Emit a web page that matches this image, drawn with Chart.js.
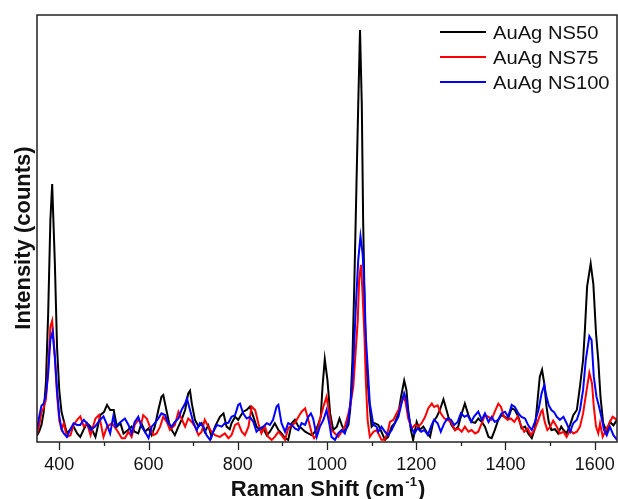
<!DOCTYPE html>
<html>
<head>
<meta charset="utf-8">
<script src="https://cdn.jsdelivr.net/npm/chart.js@4.4.0/dist/chart.umd.min.js"></script>
<style>
  body { margin: 0; background: #fff; }
  #wrap { width: 618px; height: 499px; }
</style>
</head>
<body>
<div id="wrap"><canvas id="myChart" width="618" height="499"></canvas></div>
<script>
// Raman spectra (shift in cm-1, intensity in arbitrary 0-100 units)
const labels = ["AuAg NS50", "AuAg NS75", "AuAg NS100"];
const colors = ["#000000", "#ff0000", "#0000ff"];
const xTicks = [400, 600, 800, 1000, 1200, 1400, 1600];

const ns50Shift = [350,355,360,365,370,375,380,384,390,395,400,405,410,417,425,432,440,447,455,462,470,481,492,500,507,514,522,529,537,544,554,562,569,577,584,592,600,607,614,622,629,633,640,646,652,659,667,674,682,689,693,697,704,712,719,726,734,741,749,760,768,775,782,786,794,801,812,820,827,835,842,850,857,865,872,883,891,898,906,913,921,928,936,943,951,958,966,973,980,986,990,995,1001,1007,1014,1022,1028,1033,1040,1048,1052,1057,1061,1066,1070,1074,1078,1081,1085,1089,1095,1100,1107,1115,1122,1130,1137,1145,1152,1160,1166,1173,1178,1182,1188,1193,1201,1208,1216,1223,1231,1238,1246,1253,1261,1266,1272,1279,1287,1294,1302,1309,1317,1324,1332,1339,1347,1354,1362,1369,1376,1384,1391,1399,1406,1414,1421,1429,1436,1444,1451,1459,1466,1472,1477,1482,1487,1492,1497,1503,1511,1518,1525,1530,1537,1545,1552,1560,1567,1574,1578,1583,1591,1597,1603,1608,1613,1619,1627,1634,1642,1650];
const ns50 = [1.5,2.5,4,7,14,30,52,60.4,42,22,12,7,5,2,3,3.6,2,1.2,3,4.4,3.6,1.2,6.3,7,8.7,7.5,7.5,3.6,4.4,2,2.8,3.6,2.4,2,4.4,2.4,3.2,1.6,3.6,7.5,10.6,11,7.5,4.5,2.8,1.6,3.6,5.2,7.5,11.4,12,9,5.2,3.6,4.4,2.4,3.9,1.2,3.6,5.9,6.7,3.6,3,4.4,5.9,5.2,7.1,7.5,8.3,5.9,3.6,2.8,3.2,1.6,2.4,4.4,2.8,2,0.9,0.5,4.4,5.2,3.6,3.2,2.4,2,1.6,2.4,4,5.9,13,19.4,14.5,6.7,2.8,3.6,5.5,4,2.4,4,7.5,19.2,36,60,79,96.5,79,52,28.6,16.9,9,3.6,4.4,4,2.4,0.5,1.2,3.6,4.4,6.7,10.6,14.4,12.2,7.5,2.8,0.5,4.7,2.8,3.6,2.4,1.2,4.7,5.9,7.5,10,8.2,5.9,4,2.8,3.6,6.7,9,6.3,4.7,4.5,5.5,4.7,3.6,1.2,0.9,2.8,5.2,6.3,5.9,5.5,7.9,7.5,5.9,3.2,3.6,2,0.9,3.2,9.8,15.3,16.9,13.7,8.3,4.7,2.8,3,2,3.6,2.8,2,4,6.3,7.5,13,19.2,26.2,36.4,41.8,37,25.4,19.2,10.6,4.4,2.4,4.7,3.9,5.2];

const ns75Shift = [350,355,360,365,370,375,380,384,390,395,400,405,410,417,425,432,440,447,455,462,470,481,489,499,507,518,529,540,547,555,562,569,577,584,588,596,603,611,618,626,633,641,648,659,667,674,682,689,697,704,712,719,726,734,741,749,760,771,779,786,794,801,809,816,824,831,839,846,853,861,868,876,883,891,898,906,913,921,928,936,943,951,958,966,971,977,984,992,999,1005,1010,1018,1025,1033,1040,1048,1053,1059,1064,1069,1072,1076,1079,1084,1087,1091,1096,1104,1111,1117,1122,1130,1137,1141,1149,1156,1164,1171,1176,1182,1190,1197,1205,1212,1220,1227,1235,1240,1248,1255,1263,1270,1278,1287,1294,1302,1309,1317,1324,1332,1339,1347,1354,1362,1369,1376,1384,1390,1397,1405,1412,1420,1427,1435,1442,1450,1457,1465,1472,1480,1483,1488,1494,1500,1507,1515,1522,1530,1537,1545,1552,1560,1567,1574,1582,1588,1594,1598,1603,1608,1612,1618,1625,1633,1640,1650];
const ns75 = [2,4,7,8,10,17,27,28.4,20,11,5,3,4.4,1.2,1.6,4,5.2,6,3.6,4.4,1.6,5.5,6.3,1.2,3.6,4.4,2.8,0.9,0.9,2.4,1.2,4,5.2,4.4,6.3,5.5,3.6,1.6,2,3.6,5.9,4.7,2.8,4,7.1,5.5,3.6,5.5,4.7,3.6,1.6,2.4,5.2,3.6,2.4,1.6,1.2,2,0.9,1.6,4,4.4,2.4,1.6,3.6,8.3,7.5,4.4,2,3.6,1.2,0.5,1.2,2.4,1.6,0.5,3.2,4,4.4,5.9,7.1,7.9,5.2,2,0.9,1.6,5.2,8.3,10.6,6.7,2.8,2,1.2,2.4,3.6,6.7,9,13,20.8,28.6,38,41.5,36.4,24.7,14.5,5.2,1.2,2.4,2.8,1.6,0.5,0.5,2.8,4.7,5.2,6.7,8.3,10.6,9.4,5.5,3.2,4,3.6,4.4,5.9,7.9,9,8.2,8.6,6.7,5.5,5.2,4.7,2.8,3.2,2.4,3.6,2.4,2.8,2,2.4,4.4,6.3,5.9,5.2,7.1,9,8.2,5.9,5.2,5.5,4.7,5.9,3.9,2.4,3.2,1.6,2.8,4.7,7.1,7.5,4.7,2.8,3.5,5,3.6,2,2.4,1.2,2.8,2,2.4,3.6,6.7,12.2,16.2,13.7,8.3,3.6,2,4.4,1.2,2.8,4.4,5.9,5.2];

const ns100Shift = [350,355,360,365,370,375,380,385,390,395,400,405,410,417,425,432,440,447,455,462,470,480,490,499,507,514,521,526,534,547,555,562,569,577,584,592,600,607,614,622,629,637,644,652,659,667,674,682,686,693,700,708,715,723,730,738,745,753,764,771,779,786,794,801,805,812,820,827,835,842,850,857,865,872,879,887,891,898,906,913,921,928,936,943,951,958,964,969,977,984,992,999,1005,1010,1018,1025,1033,1040,1048,1055,1060,1065,1070,1075,1080,1084,1087,1092,1096,1104,1111,1115,1122,1130,1137,1145,1152,1160,1167,1173,1178,1182,1188,1196,1203,1211,1218,1226,1233,1240,1248,1255,1263,1270,1278,1285,1293,1300,1308,1315,1323,1330,1339,1347,1354,1362,1369,1376,1384,1391,1399,1406,1414,1421,1429,1436,1444,1451,1459,1466,1474,1481,1487,1492,1497,1503,1509,1515,1522,1530,1537,1545,1552,1560,1567,1574,1580,1588,1593,1598,1604,1610,1615,1621,1627,1634,1642,1650];
const ns100 = [3,6,8.5,9,11,16,24,25.8,20,12,6,3,2,1.2,3,4.4,4,4,5.2,4.4,2.8,3.6,5,6,4,2,6,3.6,4.4,5.5,4,2,4.7,5.9,3.6,2.4,0.9,3.6,4.4,5.5,6.7,6.3,4.4,3.6,4.7,5.5,7.5,9,10.2,7.5,4.7,2.8,4.4,3.6,1.6,0.5,2.4,4,3.6,4.4,4.5,5.9,6.3,8.7,9,6.7,5.5,5.9,4.7,2.4,3.2,3.6,4.4,4,5.2,8.3,8.7,4.4,2.4,4.4,4,3.2,2.8,4.4,4,5.9,6.7,5.5,1.2,3.6,5.2,7.5,4.4,1.2,0.5,2,2.8,2,5.2,11.4,20.8,32.5,42.6,48.2,44,34.8,24.7,16,9,4,3.6,2.4,3.6,2.4,1.6,2.8,4.4,5.9,9,11.4,9.8,6.7,3.6,2,3.2,2.4,2.8,1.6,3.6,5.2,4.4,2.4,4.4,5.5,5.2,4,4.7,6.7,5.9,6.3,4.7,6,7.1,5.2,6.7,4.7,5.9,4.7,5.2,6.7,7.1,5.9,8.7,8.2,6.7,5.9,5.5,3.9,2.8,4.7,7.5,11.4,13.3,10.6,8.6,7.5,7,5.9,5.2,5.9,4.4,2.4,4.4,5.2,7.5,12.2,19.2,24.8,23.9,15.3,10.6,8.2,5.9,2.8,1.6,3.6,1.6,0.5];

const shifts = [ns50Shift, ns75Shift, ns100Shift];
const values = [ns50, ns75, ns100];

const FONT = '"Liberation Sans", Arial, Helvetica, sans-serif';

// frame, ticks, tick labels, axis titles and legend drawn by hand to match the Origin look
const decor = {
  id: "decor",
  afterDraw(chart) {
    const ctx = chart.ctx;
    const a = chart.chartArea;
    const xs = chart.scales.x;
    ctx.save();
    ctx.strokeStyle = "#222";
    ctx.lineWidth = 1.5;
    ctx.strokeRect(a.left, a.top, a.right - a.left, a.bottom - a.top);
    // ticks outward, major every 200, minor every 100
    ctx.lineWidth = 1.3;
    for (let v = 400; v <= 1600; v += 100) {
      const px = Math.round(xs.getPixelForValue(v)) + 0.5;
      const len = v % 200 === 0 ? 8 : 4;
      ctx.beginPath();
      ctx.moveTo(px, a.bottom);
      ctx.lineTo(px, a.bottom + len);
      ctx.stroke();
    }
    ctx.fillStyle = "#111";
    ctx.font = "18px " + FONT;
    ctx.textAlign = "center";
    ctx.textBaseline = "middle";
    xTicks.forEach((v) => {
      ctx.fillText(String(v), xs.getPixelForValue(v), 465);
    });
    // x title with superscript
    ctx.textAlign = "left";
    ctx.textBaseline = "alphabetic";
    ctx.font = "bold 22px " + FONT;
    const t1 = "Raman Shift (cm", sup = "-1", t2 = ")";
    const w1 = ctx.measureText(t1).width, w3 = ctx.measureText(t2).width;
    ctx.font = "bold 13px " + FONT;
    const w2 = ctx.measureText(sup).width;
    let x0 = (a.left + a.right) / 2 - (w1 + w2 + w3) / 2;
    const by = 496;
    ctx.font = "bold 22px " + FONT;
    ctx.fillText(t1, x0, by);
    ctx.font = "bold 13px " + FONT;
    ctx.fillText(sup, x0 + w1 + 1, by - 10);
    ctx.font = "bold 22px " + FONT;
    ctx.fillText(t2, x0 + w1 + w2 + 2, by);
    // y title
    ctx.translate(24, 238);
    ctx.rotate(-Math.PI / 2);
    ctx.textAlign = "center";
    ctx.textBaseline = "middle";
    ctx.fillText("Intensity (counts)", 0, 0);
    ctx.restore();

    // legend
    ctx.save();
    const rows = [32, 57, 82];
    chart.data.datasets.forEach((ds, i) => {
      ctx.strokeStyle = ds.borderColor;
      ctx.lineWidth = 2;
      ctx.beginPath();
      ctx.moveTo(440, rows[i]);
      ctx.lineTo(486, rows[i]);
      ctx.stroke();
      ctx.save();
      ctx.translate(493, rows[i] + 6.5);
      ctx.scale(1.12, 1);
      ctx.fillStyle = "#111";
      ctx.font = "18px " + FONT;
      ctx.fillText(ds.label, 0, 0);
      ctx.restore();
    });
    ctx.restore();
  }
};

const datasets = labels.map((name, i) => ({
  label: name,
  data: shifts[i].map((s, j) => ({ x: s, y: values[i][j] })),
  borderColor: colors[i],
  borderWidth: 2,
  pointRadius: 0,
  tension: 0,
  fill: false,
  order: 2 - i
}));

const ctx = document.getElementById("myChart").getContext("2d");
new Chart(ctx, {
  type: "line",
  data: { datasets: datasets },
  options: {
    responsive: false,
    animation: false,
    layout: { padding: { left: 37, right: 1, top: 15, bottom: 57 } },
    plugins: {
      legend: { display: false },
      tooltip: { enabled: false }
    },
    scales: {
      x: {
        type: "linear",
        display: false,
        min: 350,
        max: 1650
      },
      y: {
        display: false,
        min: 0,
        max: 100
      }
    }
  },
  plugins: [decor]
});
</script>
</body>
</html>
